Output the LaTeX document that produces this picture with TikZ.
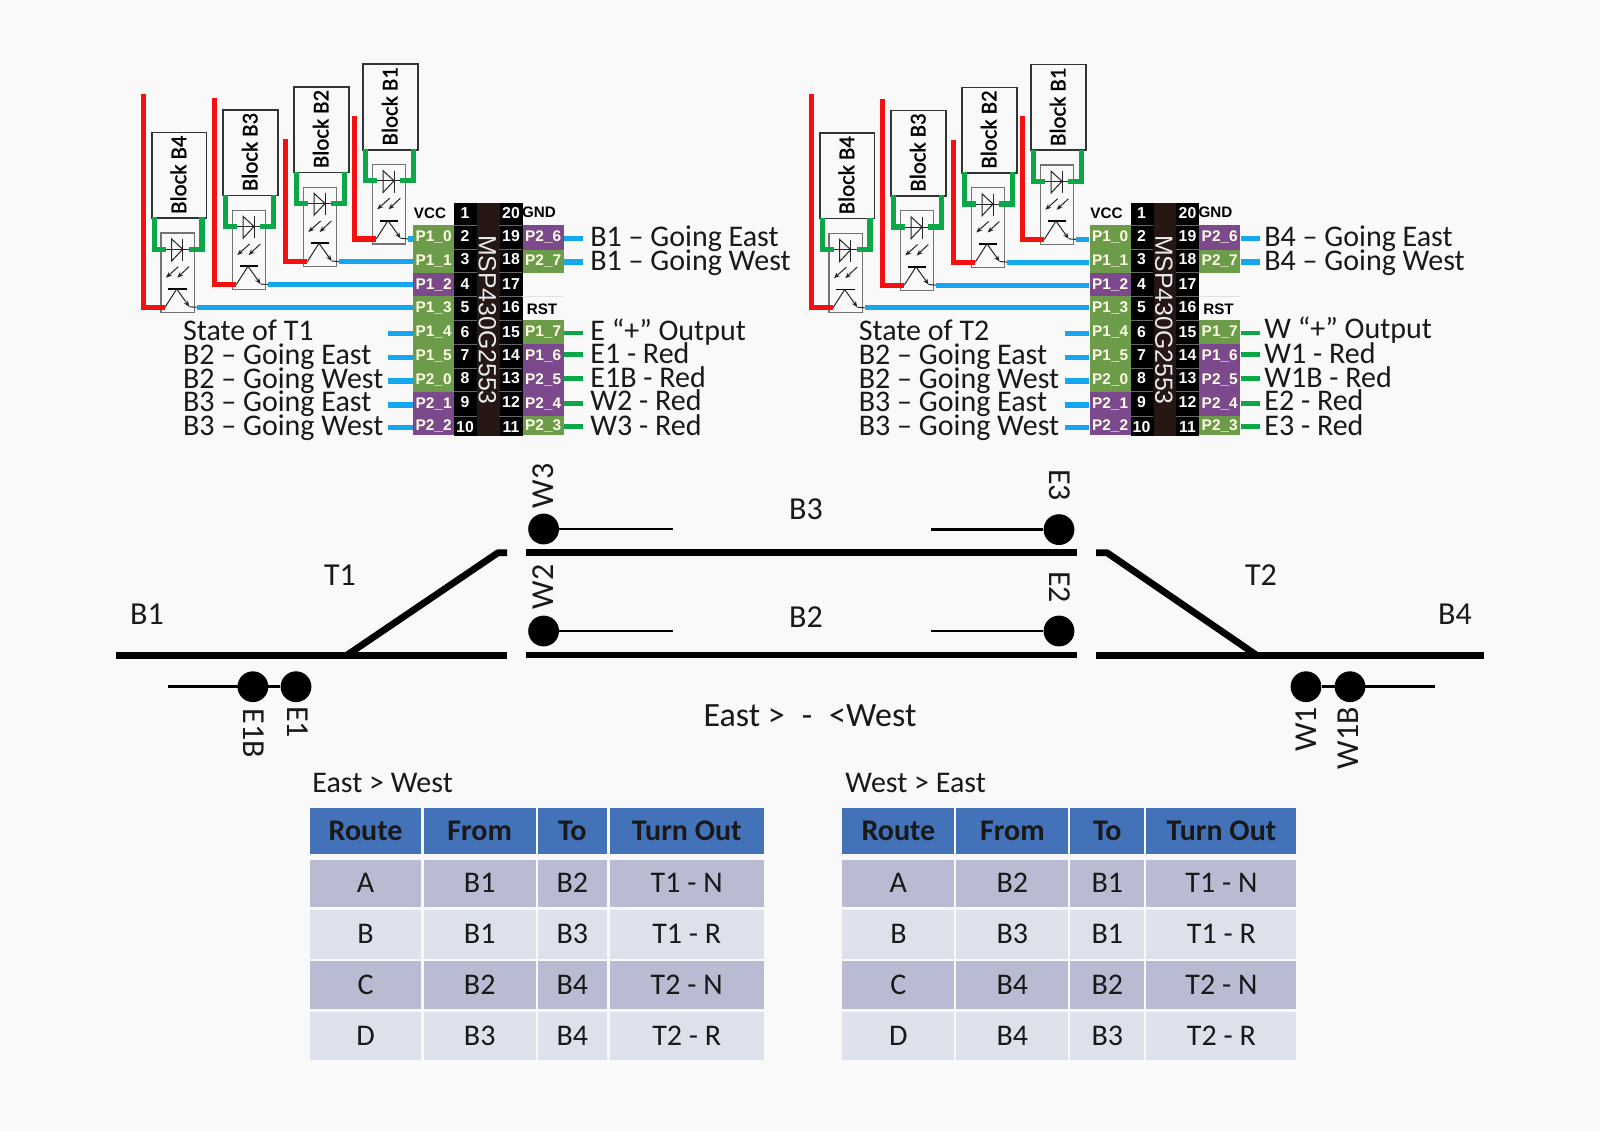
\documentclass[tikz,border=0pt]{standalone}
\usepackage{fontspec}
\setmainfont{Carlito}
\newfontfamily\pinfont{Liberation Sans}
\newfontfamily\blockfont[FakeBold=1.2]{Carlito}
\usetikzlibrary{arrows.meta}
\definecolor{bgc}{HTML}{F9F9F9}
\definecolor{wblue}{HTML}{14A6EE}
\definecolor{wred}{HTML}{F41010}
\definecolor{wgreen}{HTML}{0CA848}
\definecolor{pgreen}{HTML}{6C9C4A}
\definecolor{ppurple}{HTML}{7C4A8C}
\definecolor{chipbrown}{HTML}{261614}
\definecolor{thead}{HTML}{4472B8}
\definecolor{todd}{HTML}{B9BBD2}
\definecolor{teven}{HTML}{DDE1EB}
\tikzset{
  blockbox/.style={draw=black!80,line width=0.8pt,anchor=north west,minimum width=27.3pt,minimum height=42.8pt,inner sep=0pt},
  blocktext/.style={font=\blockfont\fontsize{11.3}{12}\selectfont,rotate=90,inner sep=0pt},
  optobox/.style={draw=black!55,line width=0.6pt,anchor=north west,minimum width=16.8pt,minimum height=39.7pt,inner sep=0pt},
  redw/.style={draw=wred,line width=2.6pt,line cap=butt,line join=miter},
  greenw/.style={draw=wgreen,line width=2.6pt,line join=miter},
  bluew/.style={draw=wblue,line width=2.6pt},
  greens/.style={draw=wgreen,line width=2.4pt},
  fine/.style={draw=black!85,line width=0.5pt},
  finearrow/.style={fine,-{Stealth[length=3pt,width=2.4pt]}},
  pinbox/.style={anchor=north west,inner sep=0pt,minimum width=20.5pt,text=white!90!yellow,font=\pinfont\bfseries\fontsize{7.7}{9}\selectfont},
  pinnum/.style={text=white,inner sep=0pt,font=\pinfont\bfseries\fontsize{7.9}{9}\selectfont},
  pintag/.style={text=black,inner sep=0pt,font=\pinfont\bfseries\fontsize{7.6}{9}\selectfont},
  chiptext/.style={text=white!92!black,rotate=-90,inner sep=0pt,font=\pinfont\fontsize{12.4}{14}\selectfont},
  lab/.style={anchor=west,inner sep=0pt,yshift=-2.5pt,text height=0.68em,text depth=0.2em,font=\fontsize{15}{17}\selectfont,text=black!90},
  tracklab/.style={inner sep=0pt,text height=0.64em,text depth=0pt,font=\fontsize{16}{17}\selectfont,text=black!90},
  trackh/.style={tracklab,yshift=-2pt},
  trackup/.style={tracklab,rotate=90,xshift=-0.5pt,yshift=0pt},
  trackdn/.style={tracklab,rotate=-90},
  track/.style={draw=black,line width=3.4pt,line cap=butt,line join=bevel},
  sensorline/.style={draw=black,line width=1.4pt},
  sensor/.style={circle,fill=black,inner sep=0pt,minimum size=15.4pt},
  cell/.style={anchor=north west,inner sep=0pt,text=black!90,text height=0.64em,text depth=0pt,font=\fontsize{15}{17}\selectfont},
}
% one block with its opto-coupler; #1 name, #2,#3 corner, #4 top of the red wire below the corner, #5 label
\newcommand{\OptoBlock}[5]{%
  \begin{scope}[shift={(#2,#3)}]
    \coordinate (#1rt) at (-7.7,#4);
    \coordinate (#1rb) at (-7.7,175.6);
    \coordinate (#1c) at (14,175.6);
    \coordinate (#1e) at (45.7,175.6);
    \coordinate (#1gl) at (14.7,117.5);
    \coordinate (#1gr) at (38,117.5);
    \node[optobox] (#1op) at (9.3,100.6) {};
    \node[blockbox] (#1bx) at (0,0) {};
    \node[blocktext] (#1tx) at (27.4,43) {#5};
    \draw[fine] (#1gl) -- (#1gr);
    \draw[fine] (20.7,107.3) -- (20.7,129.3) -- (31.7,117.5) -- cycle;
    \draw[fine] (31.7,107.3) -- (31.7,129.3);
    \draw[finearrow] (27.3,135) -- (15,146);
    \draw[finearrow] (38,135) -- (26.3,146);
    \draw[draw=black,line width=0.9pt] (17.3,157.3) -- (35.7,157.3);
    \draw[fine] (25.7,157.3) -- (#1c);
    \draw[finearrow] (25.7,157.3) -- (38.3,175);
    \draw[fine] (38.3,175) -- (#1e);
    \draw[redw] (#1rt) -- (#1rb) -- (#1c);
    \draw[greenw] (3.3,85.7) -- (3.3,117.5) -- (#1gl);
    \draw[greenw] (51,85.7) -- (51,117.5) -- (#1gr);
  \end{scope}}
% all four blocks of one side, with their blue wires to the pins
\newcommand{\Blocks}[3]{%
  \begin{scope}[shift={(#2,#3)}]
    \OptoBlock{#1B4}{151}{131.7}{-38}{Block B4}
    \OptoBlock{#1B3}{222.3}{109}{-10.7}{Block B3}
    \OptoBlock{#1B2}{293.3}{86}{53.3}{Block B2}
    \OptoBlock{#1B1}{362.3}{63.3}{52.5}{Block B1}
  \end{scope}
  \draw[bluew] (#1B4e) -- (#1B4e -| #1P13.west);
  \draw[bluew] (#1B3e) -- (#1B3e -| #1P12.west);
  \draw[bluew] (#1B2e) -- (#1B2e -| #1P11.west);
  \draw[bluew] (#1B1e) -- (#1B1e -| #1P10.west);}
% pin strip; #1 prefix, #2 x shift
\newcommand{\Chip}[2]{%
  \begin{scope}[shift={(#2,0)}]
    \node[anchor=north west,fill=black,minimum width=34.2pt,minimum height=116.3pt,inner sep=0pt] (#1chip) at (454,202.7) {};
    \node[anchor=north west,fill=chipbrown,minimum width=11.3pt,minimum height=116.3pt,inner sep=0pt] (#1core) at (476.7,202.7) {};
    \foreach \ly in {225,249.3,272.7,296,320,344,368.3,391.7,416}{
      \draw[black!60,line width=0.3pt] (454,\ly) -- (476.7,\ly);
      \draw[black!60,line width=0.3pt] (499.3,\ly) -- (522.3,\ly);
    }
    \draw[black!12,line width=0.5pt] (522.3,296) -- (563.3,296);
    \foreach \nm/\tp/\bt/\tx/\cl in {P10/225/249.3/P1\_0/pgreen,P11/249.3/272.7/P1\_1/pgreen,P12/272.7/296/P1\_2/ppurple,P13/296/320/P1\_3/pgreen,P14/320/344/P1\_4/pgreen,P15/344/368.3/P1\_5/pgreen,P20/368.3/391.7/P2\_0/pgreen,P21/391.7/416/P2\_1/ppurple,P22/416/435/P2\_2/ppurple}{
      \pgfmathsetmacro\hh{(\bt-\tp)*0.5}
      \node[pinbox,fill=\cl,minimum height=\hh pt] (#1\nm) at (412.7,\tp) {\tx};
    }
    \foreach \nm/\tp/\bt/\tx/\cl in {P26/225/249.3/P2\_6/ppurple,P27/249.3/272.7/P2\_7/pgreen,P17/320/344/P1\_7/pgreen,P16/344/368.3/P1\_6/ppurple,P25/368.3/391.7/P2\_5/ppurple,P24/391.7/416/P2\_4/ppurple,P23/416/435/P2\_3/pgreen}{
      \pgfmathsetmacro\hh{(\bt-\tp)*0.5}
      \node[pinbox,fill=\cl,minimum height=\hh pt] (#1\nm) at (522.3,\tp) {\tx};
    }
    \foreach \a/\yy in {1/212.7,2/236,3/259,4/284,5/307,6/331.7,7/355,8/378,9/402,10/426.7}{
      \node[pinnum] (#1n\a) at (465,\yy) {\a};
    }
    \foreach \a/\yy in {20/212.7,19/236,18/259,17/284,16/307,15/331.7,14/355,13/378,12/402,11/426.7}{
      \node[pinnum] (#1n\a) at (511,\yy) {\a};
    }
    \node[pintag] (#1vcc) at (430,213.5) {VCC};
    \node[pintag] (#1gnd) at (539,212.5) {GND};
    \node[pintag] (#1rst) at (542,309) {RST};
    \node[chiptext] (#1msp) at (487.5,320) {MSP430G2553};
    \foreach \nm/\yy in {a/333.3,b/357.7,c/381,d/405,e/427.3}{
      \coordinate (#1s\nm) at (388,\yy);
    }
    \foreach \nm/\pn in {a/P14,b/P15,c/P20,d/P21,e/P22}{
      \draw[bluew] (#1s\nm) -- (#1s\nm -| #1\pn.west);
    }
    \coordinate (#1ra) at (583,238.3);
    \coordinate (#1rb) at (583,262);
    \draw[bluew] (#1ra -| #1P26.east) -- (#1ra);
    \draw[bluew] (#1rb -| #1P27.east) -- (#1rb);
    \coordinate (#1rc) at (583,333);
    \coordinate (#1rd) at (583,354.3);
    \coordinate (#1re) at (583,378.3);
    \coordinate (#1rf) at (583,403.3);
    \coordinate (#1rg) at (583,426.7);
    \draw[greens] (#1rc -| #1P17.east) -- (#1rc);
    \draw[greens] (#1rd -| #1P16.east) -- (#1rd);
    \draw[greens] (#1re -| #1P25.east) -- (#1re);
    \draw[greens] (#1rf -| #1P24.east) -- (#1rf);
    \draw[greens] (#1rg -| #1P23.east) -- (#1rg);
  \end{scope}}
% table: columns from \colA..\colH
\newcommand{\RTable}[2]{%
  \foreach \rn/\tp/\bt/\fc/\sty/\ta/\tb/\tc/\td in {#2}{
    \pgfmathsetmacro\hh{(\bt-\tp)*0.5}
    \pgfmathsetmacro\cwa{(\colB-\colA)*0.5}
    \pgfmathsetmacro\cwb{(\colD-\colC)*0.5}
    \pgfmathsetmacro\cwc{(\colF-\colE)*0.5}
    \pgfmathsetmacro\cwd{(\colH-\colG)*0.5}
    \node[cell,fill=\fc,minimum width=\cwa pt,minimum height=\hh pt,align=center] (#1\rn a) at (\colA,\tp) {\raisebox{-1.3pt}{\sty\ta}};
    \node[cell,fill=\fc,minimum width=\cwb pt,minimum height=\hh pt,align=center] (#1\rn b) at (\colC,\tp) {\raisebox{-1.3pt}{\sty\tb}};
    \node[cell,fill=\fc,minimum width=\cwc pt,minimum height=\hh pt,align=center] (#1\rn c) at (\colE,\tp) {\raisebox{-1.3pt}{\sty\tc}};
    \node[cell,fill=\fc,minimum width=\cwd pt,minimum height=\hh pt,align=center] (#1\rn d) at (\colG,\tp) {\raisebox{-1.3pt}{\sty\td}};
  }}
\begin{document}
\begin{tikzpicture}[x=0.5pt,y=-0.5pt]
\fill[bgc] (0,0) rectangle (1600,1131);
\useasboundingbox (0,0) rectangle (1600,1131);

% ---- chips and blocks
\Chip{L}{0}
\Chip{R}{676.5}
\Blocks{L}{0}{0}
\Blocks{R}{668}{0.5}

% ---- wire labels, left side
\node[lab] (la1) at (182.7,330.6) {State of T1};
\node[lab] (la2) at (182.7,355) {B2 – Going East};
\node[lab] (la3) at (182.7,378.6) {B2 – Going West};
\node[lab] (la4) at (182.7,402) {B3 – Going East};
\node[lab] (la5) at (182.7,425.5) {B3 – Going West};
\node[lab] (lb1) at (590,236.5) {B1 – Going East};
\node[lab] (lb2) at (590,261) {B1 – Going West};
\node[lab] (lb3) at (590,330.6) {E “+” Output};
\node[lab] (lb4) at (590,354) {E1 - Red};
\node[lab] (lb5) at (590,377.5) {E1B - Red};
\node[lab] (lb6) at (590,401) {W2 - Red};
\node[lab] (lb7) at (590,425.5) {W3 - Red};
% ---- wire labels, right side
\node[lab] (ra1) at (858.5,330.6) {State of T2};
\node[lab] (ra2) at (858.5,355) {B2 – Going East};
\node[lab] (ra3) at (858.5,378.6) {B2 – Going West};
\node[lab] (ra4) at (858.5,402) {B3 – Going East};
\node[lab] (ra5) at (858.5,425.5) {B3 – Going West};
\node[lab] (rb1) at (1264,236.5) {B4 – Going East};
\node[lab] (rb2) at (1264,261) {B4 – Going West};
\node[lab] (rb3) at (1264,328.6) {W “+” Output};
\node[lab] (rb4) at (1264,354) {W1 - Red};
\node[lab] (rb5) at (1264,377.5) {W1B - Red};
\node[lab] (rb6) at (1264,401) {E2 - Red};
\node[lab] (rb7) at (1264,425.5) {E3 - Red};

% ---- track plan
\coordinate (tlw) at (116,655.5);
\coordinate (tle) at (507,655.5);
\coordinate (tlj) at (346.4,655.5);
\coordinate (tlk) at (498,552.7);
\coordinate (tlu) at (507,552.7);
\coordinate (tmwu) at (526,552.7);
\coordinate (tmeu) at (1076.5,552.7);
\coordinate (tmwl) at (526,655);
\coordinate (tmel) at (1076.5,655);
\coordinate (tre) at (1484,655.5);
\coordinate (trw) at (1096,655.5);
\coordinate (trj) at (1257,655.5);
\coordinate (trk) at (1107,552.7);
\coordinate (tru) at (1096,552.7);
\draw[track] (tlw) -- (tle);
\draw[track] (tlj) -- (tlk) -- (tlu);
\draw[track] (tmwu) -- (tmeu);
\draw[track,line width=3.1pt] (tmwl) -- (tmel);
\draw[track] (trw) -- (tre);
\draw[track] (tru) -- (trk) -- (trj);

\node[sensor] (sW3) at (543.6,529) {};
\node[sensor] (sW2) at (543.6,631) {};
\node[sensor] (sE3) at (1059,529.6) {};
\node[sensor] (sE2) at (1059,631) {};
\node[sensor] (sE1B) at (252.9,686.7) {};
\node[sensor] (sE1) at (296,686.7) {};
\node[sensor] (sW1) at (1306,686.7) {};
\node[sensor] (sW1B) at (1350,686.7) {};
\coordinate (eW3) at (672.5,529);
\coordinate (eW2) at (672.5,631);
\coordinate (eE3) at (930.6,529.6);
\coordinate (eE2) at (930.6,631);
\coordinate (eE1) at (168,686.7);
\coordinate (eW1) at (1434.7,686.7);
\draw[sensorline] (sW3) -- (eW3);
\draw[sensorline] (sW2) -- (eW2);
\draw[sensorline] (sE3) -- (eE3);
\draw[sensorline] (sE2) -- (eE2);
\draw[sensorline] (sE1) -- (eE1);
\draw[sensorline] (sW1) -- (eW1);

\node[trackh] (tB1) at (147,614) {B1};
\node[trackh] (tT1) at (340,575.5) {T1};
\node[trackh] (tB3) at (806,509) {B3};
\node[trackh] (tB2) at (806,617) {B2};
\node[trackh] (tT2) at (1261,575.5) {T2};
\node[trackh] (tB4) at (1455,614) {B4};
\node[trackh,font=\fontsize{17}{18}\selectfont] (tEW) at (810,716) {East >\hspace{0.5em}-\hspace{0.5em}<West};
\node[trackup] (tW3) at (547,485) {W3};
\node[trackup] (tW2) at (547,586) {W2};
\node[trackdn] (tE3) at (1056,485) {E3};
\node[trackdn] (tE2) at (1056,587) {E2};
\node[trackdn] (tE1B) at (250,733.5) {E1B};
\node[trackdn] (tE1) at (294,722) {E1};
\node[trackup] (tW1) at (1310,728.6) {W1};
\node[trackup] (tW1B) at (1352,737) {W1B};

% ---- tables
\node[lab] (ttA) at (312,782.6) {East > West};
\node[lab] (ttB) at (845,782.6) {West > East};
\def\colA{309.3}\def\colB{421}\def\colC{423.3}\def\colD{535.3}\def\colE{537.3}\def\colF{606.7}\def\colG{609.3}\def\colH{763.3}
\RTable{A}{h/807.3/854/thead/\bfseries/Route/From/To/Turn Out,
  a/860/906.7/todd/\relax/A/B1/B2/T1 - N,
  b/909.3/958.3/teven/\relax/B/B1/B3/T1 - R,
  c/960.7/1009/todd/\relax/C/B2/B4/T2 - N,
  d/1011.3/1060/teven/\relax/D/B3/B4/T2 - R}
\def\colA{842}\def\colB{954}\def\colC{956}\def\colD{1068}\def\colE{1070}\def\colF{1144}\def\colG{1146}\def\colH{1296}
\RTable{B}{h/807.3/854/thead/\bfseries/Route/From/To/Turn Out,
  a/860/906.7/todd/\relax/A/B2/B1/T1 - N,
  b/909.3/958.3/teven/\relax/B/B3/B1/T1 - R,
  c/960.7/1009/todd/\relax/C/B4/B2/T2 - N,
  d/1011.3/1060/teven/\relax/D/B4/B3/T2 - R}
\end{tikzpicture}
\end{document}
